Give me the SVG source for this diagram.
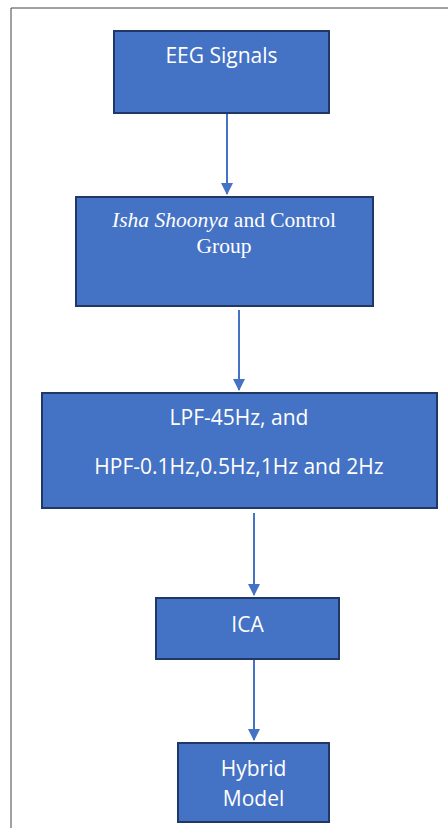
<svg xmlns="http://www.w3.org/2000/svg" width="448" height="828" viewBox="0 0 448 828">
<defs>
<style>
.box{fill:#4472C4;stroke:#1F3864;stroke-width:2}
.t{fill:#ffffff;font-family:"Open Sans","Liberation Sans",sans-serif;font-size:21px;text-anchor:middle}
.s{fill:#ffffff;font-family:"Liberation Serif",serif;font-size:21.5px;text-anchor:middle}
.c{stroke:#4472C4;stroke-width:2;fill:none;marker-end:url(#ah)}
</style>
<marker id="ah" markerWidth="12" markerHeight="12" refX="11" refY="6" orient="auto" markerUnits="userSpaceOnUse">
<path d="M0,0 L12,6 L0,12 z" fill="#4472C4"/>
</marker>
</defs>
<rect x="0" y="0" width="448" height="828" fill="#ffffff"/>
<path d="M11,828 V8 H448" fill="none" stroke="#444" stroke-width="1"/>
<g id="connectors">
<line class="c" x1="227" y1="114" x2="227" y2="194"/>
<line class="c" x1="239" y1="310" x2="239" y2="390"/>
<line class="c" x1="254" y1="513" x2="254" y2="595"/>
<line class="c" x1="254" y1="660" x2="254" y2="740"/>
</g>
<g id="eeg">
<rect class="box" x="114" y="31" width="215" height="82"/>
<text class="t" x="221.5" y="63">EEG Signals</text>
</g>
<g id="group">
<rect class="box" x="76" y="197" width="297" height="109"/>
<text class="s" x="224" y="227"><tspan font-style="italic">Isha Shoonya</tspan> and Control</text>
<text class="s" x="224" y="253">Group</text>
</g>
<g id="filter">
<rect class="box" x="42" y="393" width="395" height="115"/>
<text class="t" x="239" y="425">LPF-45Hz, and</text>
<text class="t" x="239" y="474">HPF-0.1Hz,0.5Hz,1Hz and 2Hz</text>
</g>
<g id="ica">
<rect class="box" x="156" y="598" width="183" height="61"/>
<text class="t" x="247.5" y="632">ICA</text>
</g>
<g id="hybrid">
<rect class="box" x="178" y="743" width="151" height="79"/>
<text class="t" x="253.5" y="776">Hybrid</text>
<text class="t" x="253.5" y="806">Model</text>
</g>
</svg>
